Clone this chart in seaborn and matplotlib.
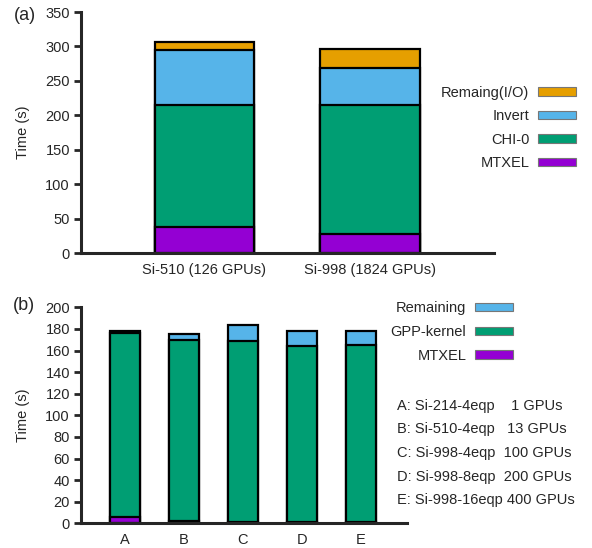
import matplotlib
matplotlib.use("Agg")
import matplotlib.pyplot as plt
import seaborn as sns
import pandas as pd
import numpy as np
from matplotlib.patches import Patch

sns.set_theme(style="ticks")
plt.rcParams['font.family'] = ['Liberation Sans', 'DejaVu Sans']

# ---- data (a) ----
cats_a = ["Si-510 (126 GPUs)", "Si-998 (1824 GPUs)"]
series_a = ["MTXEL", "CHI-0", "Invert", "Remaing(I/O)"]
mtxel_a = [38, 27]
chi0_a = [177.5, 188]
invert_a = [80, 53]
remain_a = [10.5, 28]
colors_a = ["#9400D3", "#009E73", "#56B4E9", "#E69F00"]

# ---- data (b) ----
cats_b = ["A", "B", "C", "D", "E"]
series_b = ["MTXEL", "GPP-kernel", "Remaining"]
mtxel_b = [5.5, 2.5, 1, 1, 1]
gpp_b = [171, 167, 168, 163, 164]
remain_b = [1.5, 6, 14.5, 14, 13.5]
colors_b = ["#9400D3", "#009E73", "#56B4E9"]
notes_b = ["A: Si-214-4eqp    1 GPUs",
           "B: Si-510-4eqp   13 GPUs",
           "C: Si-998-4eqp  100 GPUs",
           "D: Si-998-8eqp  200 GPUs",
           "E: Si-998-16eqp 400 GPUs"]

W, H = 592, 548
fig = plt.figure(figsize=(W / 100, H / 100), dpi=100)

def fx(px):
    return px / W

def fy(py):
    return 1 - py / H

ax_a = fig.add_axes([fx(81), fy(253), fx(494) - fx(81), fy(12) - fy(253)])
ax_b = fig.add_axes([fx(81), fy(523.3), fx(407) - fx(81), fy(307.3) - fy(523.3)])

FS = 10.5

def stacked(ax, cats, names, vals, colors, width):
    cum = np.cumsum(np.array(vals, dtype=float), axis=0)
    for i in range(len(names) - 1, -1, -1):
        df = pd.DataFrame({"cat": cats, "val": cum[i]})
        sns.barplot(data=df, x="cat", y="val", color=colors[i], width=width,
                    edgecolor="black", linewidth=1.6, saturation=1, ax=ax, zorder=2)

stacked(ax_a, cats_a, series_a, [mtxel_a, chi0_a, invert_a, remain_a], colors_a, 0.6)
stacked(ax_b, cats_b, series_b, [mtxel_b, gpp_b, remain_b], colors_b, 0.5)

for ax in (ax_a, ax_b):
    sns.despine(ax=ax)
    ax.spines["left"].set_linewidth(2.2)
    ax.spines["bottom"].set_linewidth(2.2)
    ax.tick_params(axis="y", labelsize=FS, width=2, length=5, direction="out", pad=3)
    ax.tick_params(axis="x", labelsize=FS, length=0, pad=7)
    ax.set_xlabel("")
    ax.set_ylabel("Time (s)", fontsize=FS, labelpad=11)
    ax.set_facecolor("white")

ax_a.set_ylim(0, 350)
ax_a.set_yticks(np.arange(0, 351, 50))
ax_a.set_xlim(-0.745, 1.75)
ax_b.set_ylim(0, 200)
ax_b.set_yticks(np.arange(0, 201, 20))
ax_b.set_xlim(-0.745, 4.78)

handles_a = [Patch(facecolor=colors_a[i], edgecolor="#777777", linewidth=0.8, label=series_a[i])
             for i in range(len(series_a) - 1, -1, -1)]
fig.legend(handles=handles_a, loc="center right", bbox_to_anchor=(fx(576), fy(128)),
           bbox_transform=fig.transFigure, frameon=False, markerfirst=False,
           fontsize=FS, handlelength=2.6, handleheight=0.5, labelspacing=0.66,
           borderpad=0, borderaxespad=0, handletextpad=0.6)

handles_b = [Patch(facecolor=colors_b[i], edgecolor="#777777", linewidth=0.8, label=series_b[i])
             for i in range(len(series_b) - 1, -1, -1)]
fig.legend(handles=handles_b, loc="center right", bbox_to_anchor=(fx(513), fy(332)),
           bbox_transform=fig.transFigure, frameon=False, markerfirst=False,
           fontsize=FS, handlelength=2.6, handleheight=0.5, labelspacing=0.66,
           borderpad=0, borderaxespad=0, handletextpad=0.6)

for k, line in enumerate(notes_b):
    fig.text(fx(397), fy(406 + k * 23.5), line, fontsize=FS, ha="left", va="center")

fig.text(fx(14), fy(16), "(a)", fontsize=13, ha="left", va="center")
fig.text(fx(13), fy(305), "(b)", fontsize=13, ha="left", va="center")

fig.savefig("out.png", dpi=100, facecolor="white")
